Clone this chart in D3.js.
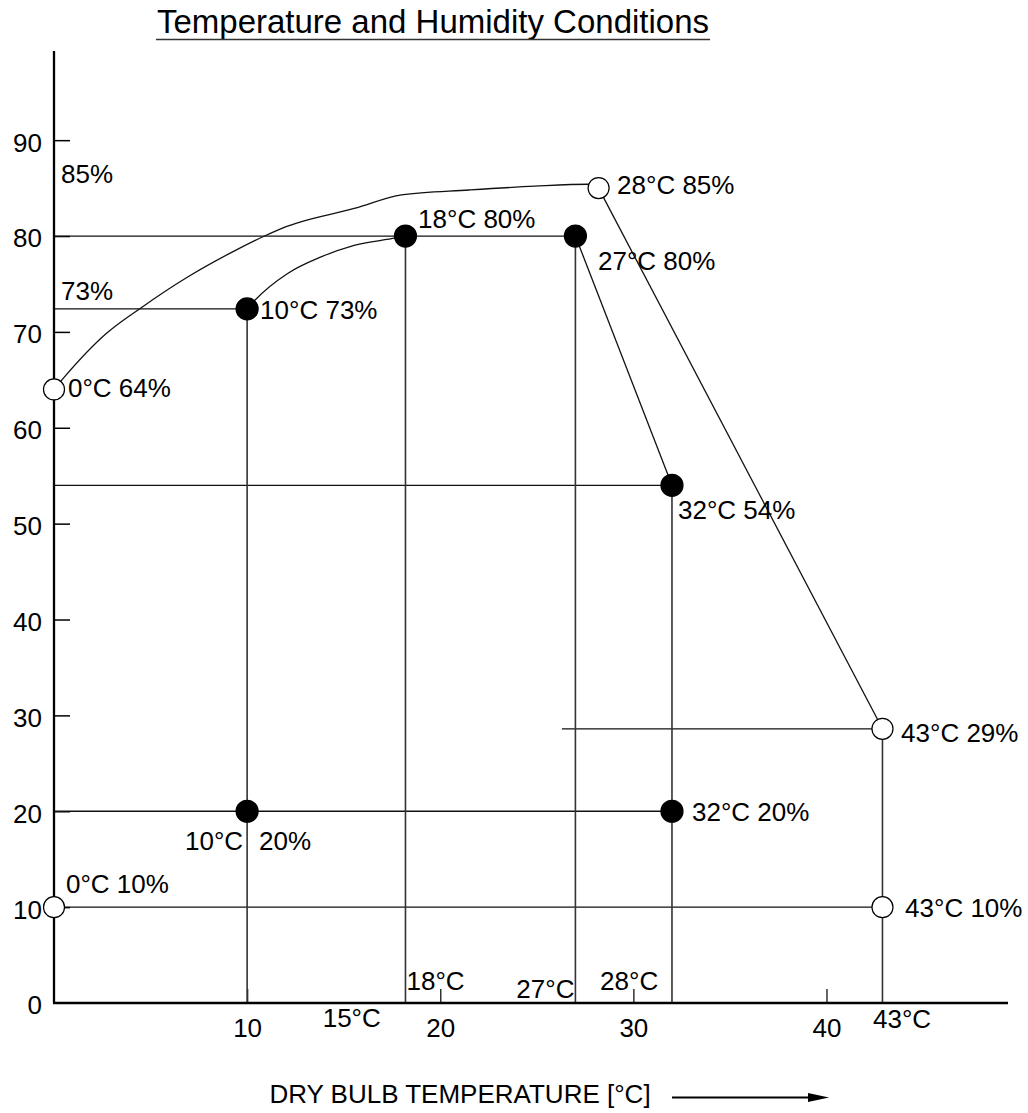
<!DOCTYPE html>
<html><head><meta charset="utf-8">
<script src="https://cdn.jsdelivr.net/npm/d3@7"></script>
<style>
html,body{margin:0;padding:0;background:#fff;}
svg{display:block;font-family:"Liberation Sans",Arial,Helvetica,sans-serif;}
</style></head>
<body>
<svg id="chart" width="1028" height="1113"></svg>
<script>
// ---------- data ----------
const titleText = "Temperature and Humidity Conditions";
const xAxisTitle = "DRY BULB TEMPERATURE [°C]";
const xTickValues = [10, 20, 30, 40];
const yTickValues = [0, 10, 20, 30, 40, 50, 60, 70, 80, 90];

// condition points (temperature °C, relative humidity %)
const pointTemps  = [0, 0, 28.2, 42.9, 42.9, 10, 18.2, 27, 32, 32, 10];
const pointRH     = [64, 10, 85, 28.6, 10, 72.4, 80, 80, 54, 20, 20];
const pointFilled = [false, false, false, false, false, true, true, true, true, true, true];
const pointLabels = ["0°C 64%", "0°C 10%", "28°C 85%", "43°C 29%", "43°C 10%",
                     "10°C 73%", "18°C 80%", "27°C 80%", "32°C 54%", "32°C 20%", "10°C|20%"];

// horizontal reference lines: humidity, from temp, to temp
const hLineRH   = [80, 72.4, 54, 28.6, 20, 10];
const hLineFrom = [0, 0, 0, 26.3, 0, 0];
const hLineTo   = [27, 10, 32, 42.9, 32, 42.9];

// vertical reference lines: temperature, top humidity
const vLineT  = [10, 18.2, 27, 32, 42.9];
const vLineRH = [72.4, 80, 80, 54, 28.6];

// straight envelope segments
const segT1 = [27, 28.2], segRH1 = [80, 85];
const segT2 = [32, 42.9], segRH2 = [54, 28.6];

// curved boundaries
const upperCurveT  = [0, 0.5, 2.75, 4.5, 6.9, 9.2, 10.9, 11.8, 15.6, 18, 21.5, 24.9, 27.7, 28.2];
const upperCurveRH = [64, 65.2, 69.9, 72.5, 75.7, 78.3, 80.0, 80.8, 82.9, 84.3, 84.8, 85.2, 85.4, 85];
const lowerCurveT  = [10, 10.4, 12.1, 13.8, 15.5, 17.7, 18.2];
const lowerCurveRH = [72.4, 73.3, 76.1, 77.8, 79.0, 79.8, 80];

// extra annotations: temperature, humidity, text
const axisNoteT    = [18.2, 15, 27, 28.2, 42.9];
const axisNoteText = ["18°C", "15°C", "27°C", "28°C", "43°C"];
const rhNoteRH     = [85, 72.4];
const rhNoteText   = ["85%", "73%"];

// ---------- layout ----------
const svg = d3.select("#chart");
const FS = 26;
const x = d3.scaleLinear().domain([0, 49.4]).range([54, 1008]);
const y = d3.scaleLinear().domain([0, 99.3]).range([1003, 51]);
const lineColor = "#111";

// title
const title = svg.append("text").attr("x", 433).attr("y", 33)
  .attr("text-anchor", "middle").attr("font-size", 33).attr("fill", "#000").text(titleText);
const tw = title.node().getComputedTextLength();
svg.append("line").attr("x1", 433 - tw / 2 - 1).attr("x2", 433 + tw / 2 + 1)
  .attr("y1", 39.5).attr("y2", 39.5).attr("stroke", "#333").attr("stroke-width", 1.6);

// axes
const yAxis = d3.axisLeft(y).tickValues(yTickValues).tickFormat(d3.format("d"))
  .tickSizeInner(-16).tickSizeOuter(0).tickPadding(12);
const gy = svg.append("g").attr("transform", `translate(${x(0)},0)`).call(yAxis);
gy.select(".domain").remove();
gy.selectAll(".tick line").attr("stroke", "#000").attr("stroke-width", 1.5)
  .attr("display", d => d === 0 ? "none" : null);
gy.selectAll(".tick text").attr("font-size", FS).attr("font-family", null)
  .attr("fill", "#000").attr("dy", "0.42em");

const xAxis = d3.axisBottom(x).tickValues(xTickValues).tickFormat(d3.format("d"))
  .tickSizeInner(-14).tickSizeOuter(0).tickPadding(16);
const gx = svg.append("g").attr("transform", `translate(0,${y(0)})`).call(xAxis);
gx.select(".domain").remove();
gx.selectAll(".tick line").attr("stroke", "#333").attr("stroke-width", 1.5);
gx.selectAll(".tick text").attr("font-size", FS).attr("font-family", null).attr("fill", "#000");

// reference lines
const grid = svg.append("g").attr("stroke", lineColor).attr("stroke-width", 1.3).attr("fill", "none");
grid.selectAll(".h").data(hLineRH).join("line")
  .attr("x1", (d, i) => x(hLineFrom[i])).attr("x2", (d, i) => x(hLineTo[i]))
  .attr("y1", d => y(d)).attr("y2", d => y(d));
grid.selectAll(".v").data(vLineT).join("line").attr("stroke", "#333").attr("stroke-width", 1.6)
  .attr("x1", d => x(d)).attr("x2", d => x(d))
  .attr("y1", (d, i) => y(vLineRH[i])).attr("y2", y(0));

const straight = d3.line().x(d => x(d[0])).y(d => y(d[1]));
grid.append("path").attr("d", straight([[segT1[0], segRH1[0]], [segT2[0], segRH2[0]]]));
grid.append("path").attr("d", straight([[segT1[1], segRH1[1]], [segT2[1], segRH2[1]]]));

const curve = d3.line().x(d => x(d[0])).y(d => y(d[1])).curve(d3.curveMonotoneX);
grid.append("path").attr("d", curve(upperCurveT.map((t, i) => [t, upperCurveRH[i]])));
grid.append("path").attr("d", curve(lowerCurveT.map((t, i) => [t, lowerCurveRH[i]])));

// axis lines
svg.append("line").attr("x1", x(0)).attr("x2", x(0)).attr("y1", y(99.3)).attr("y2", y(0))
  .attr("stroke", "#000").attr("stroke-width", 2.3);
svg.append("line").attr("x1", x(0) - 1).attr("x2", x(49.4)).attr("y1", y(0)).attr("y2", y(0))
  .attr("stroke", "#000").attr("stroke-width", 2.3);

// points
svg.append("g").selectAll("circle").data(pointTemps).join("circle")
  .attr("cx", d => x(d)).attr("cy", (d, i) => y(pointRH[i]))
  .attr("r", (d, i) => pointFilled[i] ? 11 : 10.5)
  .attr("fill", (d, i) => pointFilled[i] ? "#000" : "#fff")
  .attr("stroke", "#000").attr("stroke-width", 1.2);

// point labels (offsets in px)
const labelOffsets = [[14, 8], [12, -14], [18.5, 6], [18.6, 13], [22.6, 10],
                      [13, 10], [12.6, -8], [22.6, 34], [6, 34], [20, 10], [0, 39]];
const lg = svg.append("g").attr("font-size", FS).attr("fill", "#000");
pointLabels.forEach((lab, i) => {
  const px = x(pointTemps[i]), py = y(pointRH[i]);
  const [dx, dy] = labelOffsets[i];
  if (lab.includes("|")) {
    const [a, b] = lab.split("|");
    lg.append("text").attr("x", px - 4).attr("y", py + dy).attr("text-anchor", "end").text(a);
    lg.append("text").attr("x", px + 12).attr("y", py + dy).text(b);
  } else {
    lg.append("text").attr("x", px + dx).attr("y", py + dy).text(lab);
  }
});

// axis temperature notes
const axisNoteOffsets = [[1, 990, "start"], [-21, 1027, "start"], [-1, 998, "end"], [1.5, 990, "start"], [-9.5, 1028, "start"]];
axisNoteText.forEach((t, i) => {
  const [dx, yy, anchor] = axisNoteOffsets[i];
  lg.append("text").attr("x", x(axisNoteT[i]) + dx).attr("y", yy).attr("text-anchor", anchor).text(t);
});
// humidity notes near y axis
const rhNoteDy = [-5, -9];
rhNoteText.forEach((t, i) => {
  lg.append("text").attr("x", x(0) + 7).attr("y", y(rhNoteRH[i]) + rhNoteDy[i]).text(t);
});

// x axis title with arrow
svg.append("text").attr("x", 460).attr("y", 1103).attr("text-anchor", "middle")
  .attr("font-size", FS).attr("fill", "#000").text(xAxisTitle);
const ax0 = 672, ay = 1097.5;
svg.append("line").attr("x1", ax0).attr("x2", ax0 + 138).attr("y1", ay).attr("y2", ay)
  .attr("stroke", "#000").attr("stroke-width", 2);
svg.append("path").attr("d", `M${ax0 + 136},${ay - 4.5} L${ax0 + 157},${ay} L${ax0 + 136},${ay + 4.5} Z`).attr("fill", "#000");
</script>
</body></html>
